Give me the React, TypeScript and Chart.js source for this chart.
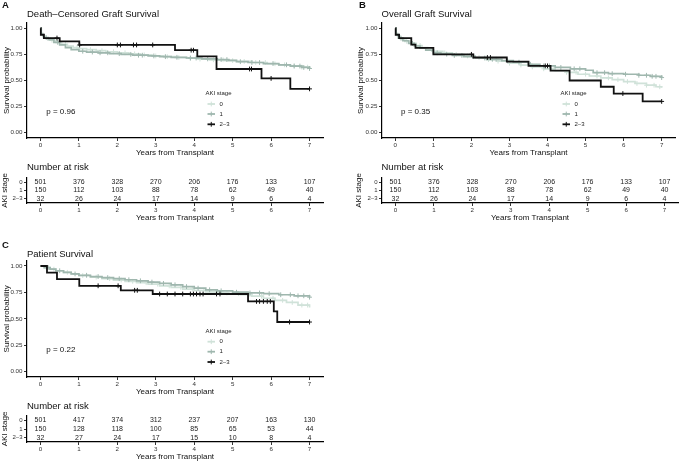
import React, { useEffect, useRef } from 'react';
import { Chart, registerables } from 'chart.js';

Chart.register(...registerables);

const FONT = "'Liberation Sans', Arial, Helvetica, sans-serif";

// ---------------- shared ----------------
const stageLabels = ['0', '1', '2–3'];
const stageColors = ['#d0e2d9', '#9fb7ae', '#111111'];
const xTickValues = [0, 1, 2, 3, 4, 5, 6, 7];
const yTickValues = [0, 0.25, 0.5, 0.75, 1];
const riskTimes = [0, 1, 2, 3, 4, 5, 6, 7];

// ---------------- A: Death–Censored Graft Survival ----------------
const dcStage0Time = [0, 0.02, 0.06, 0.12, 0.25, 0.4, 0.55, 0.7, 0.85, 1.0, 1.2, 1.45, 1.7, 2.0, 2.3, 2.6, 2.9, 3.2, 3.5, 3.8, 4.1, 4.4, 4.8, 5.1, 5.5, 5.9, 6.2, 6.5, 6.8, 7.0];
const dcStage0Surv = [1, 0.95, 0.925, 0.905, 0.885, 0.865, 0.845, 0.83, 0.815, 0.805, 0.795, 0.785, 0.775, 0.765, 0.755, 0.745, 0.735, 0.728, 0.72, 0.713, 0.705, 0.698, 0.69, 0.682, 0.672, 0.66, 0.65, 0.64, 0.628, 0.62];
const dcStage0Censor = [0.3, 0.65, 0.95, 1.3, 1.6, 1.9, 2.2, 2.45, 2.7, 3.0, 3.3, 3.6, 3.9, 4.15, 4.5, 4.75, 5.0, 5.3, 5.6, 5.85, 6.1, 6.35, 6.6, 6.8, 6.95];
const dcStage1Time = [0, 0.02, 0.08, 0.2, 0.35, 0.5, 0.65, 0.8, 1.0, 1.2, 1.5, 1.8, 2.1, 2.4, 2.8, 3.1, 3.4, 3.8, 4.2, 4.6, 4.9, 5.1, 5.4, 5.8, 6.2, 6.5, 6.8, 7.0];
const dcStage1Surv = [1, 0.94, 0.91, 0.89, 0.865, 0.84, 0.815, 0.795, 0.78, 0.772, 0.765, 0.757, 0.75, 0.742, 0.735, 0.728, 0.722, 0.715, 0.707, 0.7, 0.692, 0.68, 0.672, 0.662, 0.65, 0.638, 0.625, 0.615];
const dcStage1Censor = [0.15, 0.45, 1.1, 1.35, 1.55, 1.75, 2.05, 2.35, 2.55, 2.65, 2.95, 3.25, 3.55, 3.9, 4.05, 4.35, 4.7, 4.85, 5.2, 5.5, 5.7, 6.05, 6.4, 6.6, 6.75, 6.85, 7.0];
const dcStage23Time = [0, 0.01, 0.09, 0.5, 1.01, 3.5, 4.08, 4.58, 5.75, 6.5, 7.0];
const dcStage23Surv = [1, 0.9375, 0.906, 0.875, 0.84, 0.79, 0.73, 0.61, 0.52, 0.42, 0.42];
const dcStage23Censor = [0.43, 1.02, 2.0, 2.08, 2.42, 2.5, 2.92, 3.92, 3.98, 5.44, 5.49, 6.0, 7.0];
const dcRisk0 = [501, 376, 328, 270, 206, 176, 133, 107];
const dcRisk1 = [150, 112, 103, 88, 78, 62, 49, 40];
const dcRisk23 = [32, 26, 24, 17, 14, 9, 6, 4];

// ---------------- B: Overall Graft Survival ----------------
const ogStage0Time = [0, 0.02, 0.06, 0.12, 0.25, 0.4, 0.55, 0.7, 0.85, 1.0, 1.25, 1.5, 1.8, 2.1, 2.4, 2.7, 3.0, 3.3, 3.6, 3.9, 4.2, 4.5, 4.8, 5.1, 5.4, 5.7, 6.0, 6.3, 6.6, 6.85, 7.0];
const ogStage0Surv = [1, 0.95, 0.925, 0.9, 0.875, 0.855, 0.835, 0.815, 0.795, 0.78, 0.765, 0.75, 0.735, 0.72, 0.7, 0.685, 0.665, 0.648, 0.63, 0.612, 0.595, 0.578, 0.56, 0.543, 0.525, 0.508, 0.49, 0.472, 0.455, 0.44, 0.43];
const ogStage0Censor = [0.3, 0.65, 0.95, 1.3, 1.6, 1.9, 2.2, 2.45, 2.7, 3.0, 3.3, 3.6, 3.9, 4.15, 4.5, 4.75, 5.0, 5.3, 5.6, 5.85, 6.1, 6.35, 6.6, 6.8, 6.95];
const ogStage1Time = [0, 0.02, 0.08, 0.2, 0.35, 0.5, 0.65, 0.8, 1.0, 1.2, 1.5, 1.8, 2.1, 2.4, 2.8, 3.1, 3.5, 3.8, 4.2, 4.6, 5.0, 5.2, 5.6, 6.0, 6.4, 6.7, 7.0];
const ogStage1Surv = [1, 0.94, 0.905, 0.88, 0.855, 0.83, 0.81, 0.79, 0.765, 0.752, 0.74, 0.728, 0.715, 0.703, 0.69, 0.675, 0.655, 0.64, 0.625, 0.612, 0.598, 0.575, 0.565, 0.56, 0.55, 0.54, 0.528];
const ogStage1Censor = [0.15, 0.45, 1.1, 1.35, 1.55, 1.75, 2.05, 2.35, 2.55, 2.65, 2.95, 3.25, 3.55, 3.9, 4.05, 4.35, 4.7, 4.85, 5.3, 5.5, 5.7, 6.05, 6.4, 6.6, 6.75, 6.85, 7.0];
const ogStage23Time = [0, 0.01, 0.1, 0.42, 0.53, 1.0, 2.05, 2.93, 3.5, 4.08, 4.58, 5.4, 5.74, 6.5, 7.0];
const ogStage23Surv = [1, 0.9375, 0.906, 0.844, 0.8125, 0.75, 0.72, 0.68, 0.64, 0.595, 0.5, 0.44, 0.375, 0.3, 0.3];
const ogStage23Censor = [2.0, 2.42, 2.5, 3.94, 4.0, 5.98, 7.0];
const ogRisk0 = [501, 376, 328, 270, 206, 176, 133, 107];
const ogRisk1 = [150, 112, 103, 88, 78, 62, 49, 40];
const ogRisk23 = [32, 26, 24, 17, 14, 9, 6, 4];

// ---------------- C: Patient Survival ----------------
const psStage0Time = [0, 0.1, 0.25, 0.4, 0.6, 0.8, 1.0, 1.3, 1.6, 1.9, 2.2, 2.5, 2.8, 3.1, 3.4, 3.7, 4.0, 4.3, 4.6, 4.9, 5.2, 5.5, 5.8, 6.1, 6.4, 6.7, 7.0];
const psStage0Surv = [1, 0.985, 0.97, 0.955, 0.94, 0.925, 0.91, 0.895, 0.88, 0.867, 0.855, 0.842, 0.828, 0.812, 0.798, 0.782, 0.768, 0.755, 0.745, 0.738, 0.73, 0.715, 0.695, 0.675, 0.655, 0.63, 0.607];
const psStage0Censor = [0.35, 0.7, 1.1, 1.45, 1.8, 2.1, 2.4, 2.75, 3.05, 3.35, 3.65, 3.95, 4.25, 4.55, 4.85, 5.15, 5.45, 5.75, 6.05, 6.3, 6.55, 6.8, 6.95];
const psStage1Time = [0, 0.1, 0.25, 0.4, 0.6, 0.8, 1.0, 1.3, 1.6, 1.9, 2.2, 2.5, 2.8, 3.1, 3.4, 3.7, 4.0, 4.3, 4.6, 5.0, 5.4, 5.8, 6.2, 6.6, 7.0];
const psStage1Surv = [1, 0.985, 0.97, 0.955, 0.94, 0.925, 0.912, 0.9, 0.89, 0.88, 0.87, 0.86, 0.848, 0.835, 0.822, 0.805, 0.79, 0.775, 0.765, 0.752, 0.745, 0.738, 0.728, 0.718, 0.705];
const psStage1Censor = [0.2, 0.5, 0.9, 1.2, 1.5, 1.75, 2.05, 2.3, 2.6, 2.9, 3.2, 3.5, 3.8, 4.1, 4.4, 4.7, 5.1, 5.45, 5.7, 5.95, 6.25, 6.5, 6.7, 6.85, 7.0];
const psStage23Time = [0, 0.17, 0.43, 1.01, 2.09, 2.92, 5.4, 6.07, 6.16, 7.0];
const psStage23Surv = [1, 0.9375, 0.875, 0.8125, 0.77, 0.735, 0.665, 0.57, 0.47, 0.47];
const psStage23Censor = [1.5, 2.02, 2.45, 2.52, 3.1, 3.3, 3.5, 3.7, 3.9, 3.98, 4.06, 4.15, 4.23, 4.58, 4.67, 5.62, 5.7, 5.8, 5.9, 5.98, 6.48, 7.0];
const psRisk0 = [501, 417, 374, 312, 237, 207, 163, 130];
const psRisk1 = [150, 128, 118, 100, 85, 65, 53, 44];
const psRisk23 = [32, 27, 24, 17, 15, 10, 8, 4];

// ---------------- helpers ----------------
type Curve = { label: string; color: string; times: number[]; surv: number[]; censor: number[]; width: number };

function survAt(times: number[], surv: number[], t: number) {
  let v = surv[0];
  for (let i = 0; i < times.length; i++) if (times[i] <= t) v = surv[i];
  return v;
}

const X_MIN = -0.35;
const X_MAX = 7.35;

function xScale() {
  return {
    type: 'linear',
    min: X_MIN,
    max: X_MAX,
    afterBuildTicks: (s: any) => {
      s.ticks = xTickValues.map((v) => ({ value: v }));
    },
    afterFit: (s: any) => {
      s.height = 20;
    },
    grid: { display: true, drawOnChartArea: false, drawTicks: true, tickLength: 3, color: '#333', lineWidth: 1 },
    border: { display: true, color: '#000', width: 1.2 },
    ticks: { font: { size: 6.2, family: FONT }, color: '#333', padding: 1, maxRotation: 0, autoSkip: false, callback: (v: any) => String(v) },
    title: { display: true, text: 'Years from Transplant', font: { size: 8, family: FONT }, color: '#111', padding: { top: 0, bottom: 0 } },
  };
}

function annotPlugin(pText: string) {
  return {
    id: 'kmAnnot',
    afterDatasetsDraw(chart: any) {
      const { ctx, chartArea: ca, scales } = chart;
      ctx.save();
      ctx.textAlign = 'left';
      ctx.textBaseline = 'middle';
      ctx.font = `8px ${FONT}`;
      ctx.fillStyle = '#111';
      ctx.fillText(pText, scales.x.getPixelForValue(0.15), scales.y.getPixelForValue(0.205));
      // legend
      ctx.font = `6px ${FONT}`;
      ctx.fillStyle = '#222';
      ctx.fillText('AKI stage', ca.left + 178.5, ca.top + 70.2);
      const rowDy = [81, 91, 101.3];
      stageLabels.forEach((lab, i) => {
        const y = ca.top + rowDy[i];
        const x0 = ca.left + 180.5;
        const x1 = ca.left + 188;
        ctx.strokeStyle = stageColors[i];
        ctx.lineWidth = 1.8;
        ctx.beginPath();
        ctx.moveTo(x0, y);
        ctx.lineTo(x1, y);
        ctx.stroke();
        ctx.lineWidth = 1;
        ctx.beginPath();
        ctx.moveTo((x0 + x1) / 2, y - 2.4);
        ctx.lineTo((x0 + x1) / 2, y + 2.4);
        ctx.stroke();
        ctx.fillStyle = '#222';
        ctx.fillText(lab, ca.left + 192.5, y);
      });
      ctx.restore();
    },
  };
}

function survivalConfig(curves: Curve[], pText: string, yWidth: number, padTop: number, padRight: number) {
  const datasets: any[] = [];
  curves.forEach((c, k) => {
    const order = curves.length - k;
    datasets.push({
      type: 'line',
      label: c.label,
      data: c.times.map((t, i) => ({ x: t, y: c.surv[i] })),
      stepped: 'before',
      borderColor: c.color,
      borderWidth: c.width,
      pointRadius: 0,
      fill: false,
      order,
    });
    datasets.push({
      type: 'scatter',
      label: c.label + ' censored',
      data: c.censor.map((t) => ({ x: t, y: survAt(c.times, c.surv, t) })),
      pointStyle: 'cross',
      pointRadius: 2.4,
      borderColor: c.color,
      backgroundColor: c.color,
      borderWidth: 1,
      showLine: false,
      order,
    });
  });
  return {
    type: 'line',
    data: { datasets },
    plugins: [annotPlugin(pText)],
    options: {
      responsive: false,
      animation: false,
      events: [],
      layout: { padding: { top: padTop, right: padRight, left: 0, bottom: 0 } },
      plugins: { legend: { display: false }, tooltip: { enabled: false } },
      scales: {
        x: xScale(),
        y: {
          type: 'linear',
          min: -0.05,
          max: 1.05,
          afterBuildTicks: (s: any) => {
            s.ticks = yTickValues.map((v) => ({ value: v }));
          },
          afterFit: (s: any) => {
            s.width = yWidth;
          },
          grid: { display: true, drawOnChartArea: false, drawTicks: true, tickLength: 3, color: '#333', lineWidth: 1 },
          border: { display: true, color: '#000', width: 1.2 },
          ticks: { font: { size: 6.2, family: FONT }, color: '#333', padding: 1.5, autoSkip: false, callback: (v: any) => Number(v).toFixed(2) },
          title: { display: true, text: 'Survival probability', font: { size: 8, family: FONT }, color: '#111', padding: { top: 2, bottom: 0 } },
        },
      },
    },
  };
}

function riskPlugin() {
  return {
    id: 'riskText',
    afterDatasetsDraw(chart: any) {
      const { ctx } = chart;
      ctx.save();
      ctx.font = `7px ${FONT}`;
      ctx.fillStyle = '#222';
      ctx.textAlign = 'center';
      ctx.textBaseline = 'middle';
      chart.data.datasets.forEach((ds: any, i: number) => {
        const meta = chart.getDatasetMeta(i);
        meta.data.forEach((pt: any, j: number) => {
          ctx.fillText(String(ds.data[j].n), pt.x, pt.y);
        });
      });
      ctx.restore();
    },
  };
}

function riskConfig(rows: number[][], yWidth: number, padRight: number) {
  return {
    type: 'scatter',
    data: {
      datasets: rows.map((row, r) => ({
        label: stageLabels[r],
        data: riskTimes.map((t, i) => ({ x: t, y: stageLabels[r], n: row[i] })),
        pointRadius: 0,
      })),
    },
    plugins: [riskPlugin()],
    options: {
      responsive: false,
      animation: false,
      events: [],
      layout: { padding: { top: 8, right: padRight, left: 0, bottom: 0 } },
      plugins: { legend: { display: false }, tooltip: { enabled: false } },
      scales: {
        x: xScale(),
        y: {
          type: 'category',
          labels: stageLabels,
          offset: true,
          afterFit: (s: any) => {
            s.width = yWidth;
          },
          grid: { display: true, drawOnChartArea: false, drawTicks: true, tickLength: 3, color: '#333', lineWidth: 1, offset: false },
          border: { display: true, color: '#000', width: 1.2 },
          ticks: { font: { size: 6, family: FONT }, color: '#333', padding: 1.5, autoSkip: false },
          title: { display: true, text: 'AKI stage', font: { size: 8, family: FONT }, color: '#111', padding: { top: 0, bottom: 0 } },
        },
      },
    },
  };
}

function ChartBox(props: { left: number; top: number; width: number; height: number; make: () => any }) {
  const ref = useRef<HTMLCanvasElement>(null);
  useEffect(() => {
    const chart = new Chart(ref.current as HTMLCanvasElement, props.make());
    return () => chart.destroy();
  }, []);
  return (
    <canvas
      ref={ref}
      width={props.width}
      height={props.height}
      style={{ position: 'absolute', left: props.left, top: props.top, width: props.width, height: props.height }}
    />
  );
}

function Label(props: { left: number; top: number; size: number; bold?: boolean; text: string }) {
  return (
    <div
      style={{
        position: 'absolute',
        left: props.left,
        top: props.top,
        fontSize: props.size,
        lineHeight: `${props.size}px`,
        fontFamily: FONT,
        fontWeight: props.bold ? 'bold' : 'normal',
        color: '#111',
        whiteSpace: 'nowrap',
      }}
    >
      {props.text}
    </div>
  );
}

const curvesA: Curve[] = [
  { label: stageLabels[0], color: stageColors[0], times: dcStage0Time, surv: dcStage0Surv, censor: dcStage0Censor, width: 1.7 },
  { label: stageLabels[1], color: stageColors[1], times: dcStage1Time, surv: dcStage1Surv, censor: dcStage1Censor, width: 1.7 },
  { label: stageLabels[2], color: stageColors[2], times: dcStage23Time, surv: dcStage23Surv, censor: dcStage23Censor, width: 1.8 },
];
const curvesB: Curve[] = [
  { label: stageLabels[0], color: stageColors[0], times: ogStage0Time, surv: ogStage0Surv, censor: ogStage0Censor, width: 1.7 },
  { label: stageLabels[1], color: stageColors[1], times: ogStage1Time, surv: ogStage1Surv, censor: ogStage1Censor, width: 1.7 },
  { label: stageLabels[2], color: stageColors[2], times: ogStage23Time, surv: ogStage23Surv, censor: ogStage23Censor, width: 1.8 },
];
const curvesC: Curve[] = [
  { label: stageLabels[0], color: stageColors[0], times: psStage0Time, surv: psStage0Surv, censor: psStage0Censor, width: 1.7 },
  { label: stageLabels[1], color: stageColors[1], times: psStage1Time, surv: psStage1Surv, censor: psStage1Censor, width: 1.7 },
  { label: stageLabels[2], color: stageColors[2], times: psStage23Time, surv: psStage23Surv, censor: psStage23Censor, width: 1.8 },
];

export default function App() {
  return (
    <div style={{ position: 'absolute', left: 0, top: 0, width: 680, height: 462, background: '#fff', overflow: 'hidden' }}>
      <ChartBox left={0} top={0} width={340} height={158} make={() => survivalConfig(curvesA, 'p = 0.96', 27, 23, 17)} />
      <ChartBox left={354} top={0} width={326} height={158} make={() => survivalConfig(curvesB, 'p = 0.35', 28, 23, 2)} />
      <ChartBox left={0} top={170} width={340} height={53} make={() => riskConfig([dcRisk0, dcRisk1, dcRisk23], 27, 17)} />
      <ChartBox left={354} top={170} width={326} height={53} make={() => riskConfig([ogRisk0, ogRisk1, ogRisk23], 28, 2)} />
      <ChartBox left={0} top={238} width={340} height={159} make={() => survivalConfig(curvesC, 'p = 0.22', 27, 22.7, 17)} />
      <ChartBox left={0} top={408} width={340} height={54} make={() => riskConfig([psRisk0, psRisk1, psRisk23], 27, 17)} />

      <Label left={2} top={0.3} size={9.5} bold text="A" />
      <Label left={27} top={9.4} size={9.5} text="Death–Censored Graft Survival" />
      <Label left={359} top={0.3} size={9.5} bold text="B" />
      <Label left={381.5} top={9.4} size={9.5} text="Overall Graft Survival" />
      <Label left={27} top={162.4} size={9.5} text="Number at risk" />
      <Label left={381.5} top={162.4} size={9.5} text="Number at risk" />
      <Label left={2} top={240.3} size={9.5} bold text="C" />
      <Label left={27} top={248.6} size={9.5} text="Patient Survival" />
      <Label left={27} top={401.4} size={9.5} text="Number at risk" />
    </div>
  );
}
